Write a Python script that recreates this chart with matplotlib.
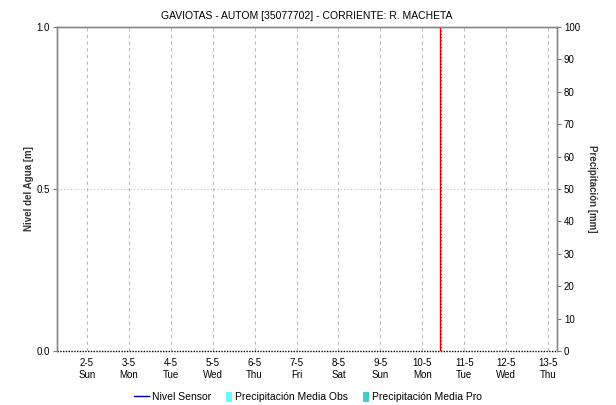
import matplotlib
matplotlib.use("Agg")
import matplotlib.pyplot as plt
from matplotlib.lines import Line2D
from matplotlib.patches import Patch
import datetime as dt

plt.rcParams['font.family'] = ['Liberation Sans', 'DejaVu Sans']

# data
title = "GAVIOTAS - AUTOM [35077702] - CORRIENTE: R. MACHETA"
day_ticks = [dt.datetime(2021, 5, d) for d in range(2, 14)]
x_start = dt.datetime(2021, 5, 1, 7, 0)
x_end = dt.datetime(2021, 5, 13, 5, 0)
now_mark = dt.datetime(2021, 5, 10, 10, 0)
nivel_t = [x_start, x_end]
nivel_v = [0.0, 0.0]
left_ticks = [0.0, 0.5, 1.0]
right_ticks = list(range(0, 101, 10))

fig = plt.figure(figsize=(6.16, 4.05), dpi=100)
ax = fig.add_axes([57/616, 1 - 351/405, 500/616, 324/405])
ax2 = ax.twinx()

# grid
for d in day_ticks:
    ax.axvline(d, color="#bbbbbb", lw=0.8, ls=(0, (3, 3)), zorder=1)
ax.axhline(0.5, color="#bbbbbb", lw=0.8, ls=(0, (1, 2)), zorder=1)

# nivel sensor (no data -> baseline dotted)
ax.plot(nivel_t, nivel_v, color="black", lw=1.0, ls=(0, (1, 1)), zorder=3, clip_on=False)

# current time marker
ax.axvline(now_mark, color="#dd0000", lw=1.0, zorder=4)
ax.axvline(now_mark + dt.timedelta(hours=0.6), color="#444444", lw=0.8, ls=(0, (1, 2)), zorder=4)

ax.set_xlim(x_start, x_end)
ax.set_ylim(0, 1)
ax2.set_ylim(0, 100)
ax.set_yticks(left_ticks)
ax.set_yticklabels([f"{v:.1f}" for v in left_ticks])
ax2.set_yticks(right_ticks)

ax.set_xticks(day_ticks)
ax.set_xticklabels([f"{d.day}-{d.month}\n{d.strftime('%a')}" for d in day_ticks])
ax.tick_params(axis="x", length=0, labelsize=7, pad=5)
ax.tick_params(axis="y", length=3, labelsize=7, color="#777777", pad=2)
ax2.tick_params(axis="y", length=3, labelsize=7, color="#777777", pad=2)

for a in (ax, ax2):
    for s in a.spines.values():
        s.set_color("#888888")
        s.set_linewidth(1.0)
    a.spines["bottom"].set_visible(False)

ax.set_ylabel("Nivel del Agua [m]", fontsize=7, fontweight="bold", color="#333333", labelpad=2)
ax2.set_ylabel("Precipitación [mm]", fontsize=7, fontweight="bold", color="#333333", rotation=270, labelpad=12)
ax.set_title(title, fontsize=7.5, pad=6)

handles = [
    Line2D([], [], color="#0000aa", lw=1.0),
    Patch(facecolor="#66ffff", edgecolor="none"),
    Patch(facecolor="#44cccc", edgecolor="none"),
]
labels = ["Nivel Sensor", "Precipitación Media Obs", "Precipitación Media Pro"]
fig.legend(handles, labels, loc="center", bbox_to_anchor=(0.5, 1 - 397/405), ncol=3,
           frameon=False, fontsize=7.5, handlelength=1.5, handleheight=1.2, handletextpad=0.3,
           columnspacing=0.5, borderaxespad=0.0)
leg = fig.legends[0]
for p in leg.get_patches():
    w = p.get_width()
    p.set_width(w * 0.4)
    p.set_x(p.get_x() + w * 0.6)

fig.savefig("out.png", dpi=100)
